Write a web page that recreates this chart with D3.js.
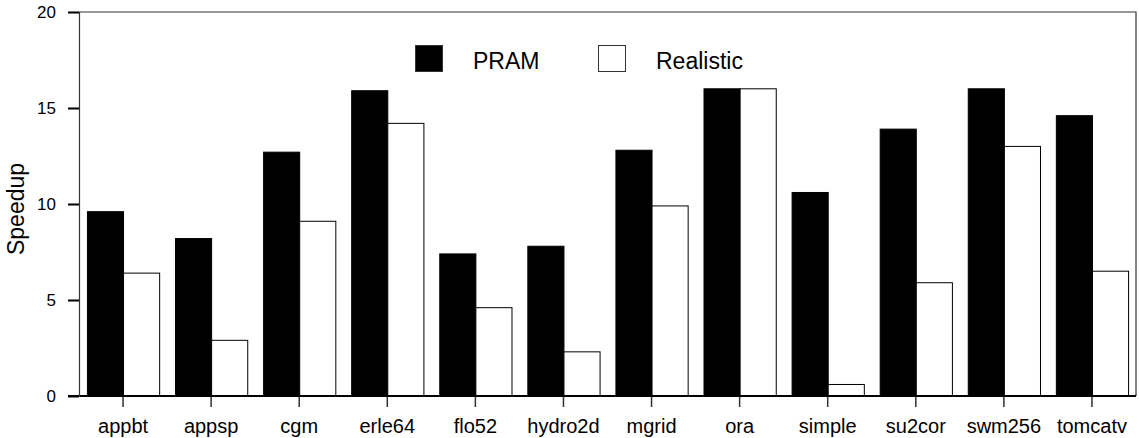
<!DOCTYPE html>
<html>
<head>
<meta charset="utf-8">
<script src="https://cdn.jsdelivr.net/npm/d3@7/dist/d3.min.js"></script>
<style>
  body { margin: 0; background: #fff; }
  svg text { font-family: "Liberation Sans", Arial, sans-serif; fill: #000; }
</style>
</head>
<body>
<div id="chart"></div>
<script>
// Speedup per benchmark, PRAM vs realistic
const categories = ['appbt','appsp','cgm','erle64','flo52','hydro2d','mgrid','ora','simple','su2cor','swm256','tomcatv'];
const pram      = [9.6, 8.2, 12.7, 15.9, 7.4, 7.8, 12.8, 16.0, 10.6, 13.9, 16.0, 14.6];
const realistic = [6.4, 2.9, 9.1, 14.2, 4.6, 2.3, 9.9, 16.0, 0.6, 5.9, 13.0, 6.5];
const yTicks = [0, 5, 10, 15, 20];
const seriesNames = ['PRAM', 'Realistic'];

(function(){
  const width = 1139, height = 438;
  const margin = { top: 12, right: 3, bottom: 42, left: 79 };

  const svg = d3.select('#chart').append('svg')
    .attr('width', width).attr('height', height);

  const x = d3.scaleBand()
    .domain(categories)
    .range([margin.left, width - margin.right])
    .paddingInner(0.18).paddingOuter(0.09);
  const xs = d3.scaleBand()
    .domain(seriesNames)
    .range([0, x.bandwidth()]);
  const y = d3.scaleLinear()
    .domain([0, 20])
    .range([height - margin.bottom, margin.top]);

  const rows = categories.map((c,i) => ({ cat: c, vals: [
    { s: 'PRAM', v: pram[i] }, { s: 'Realistic', v: realistic[i] } ] }));

  // frame (top and right)
  svg.append('path')
    .attr('d', `M${margin.left},${y(20)}H${width - margin.right}V${y(0)}`)
    .attr('fill','none').attr('stroke','#333').attr('stroke-width',1.2);

  const g = svg.append('g');
  g.selectAll('g.grp').data(rows).enter().append('g')
    .attr('transform', d => `translate(${x(d.cat)},0)`)
    .selectAll('rect').data(d => d.vals).enter().append('rect')
    .attr('x', d => xs(d.s) + 0.5)
    .attr('y', d => y(d.v))
    .attr('width', xs.bandwidth())
    .attr('height', d => y(0) - y(d.v))
    .attr('fill', d => d.s === 'PRAM' ? '#000' : '#fff')
    .attr('stroke', '#000').attr('stroke-width', 1);

  // x axis: ticks at band centre
  const xAxis = svg.append('g')
    .attr('transform', `translate(0,${y(0)})`)
    .call(d3.axisBottom(x).tickSize(11));
  xAxis.select('.domain').remove();
  xAxis.selectAll('.tick line').attr('stroke','#333').attr('stroke-width',1.5);
  xAxis.selectAll('text')
    .attr('y', 37).attr('dy', null)
    .style('font-size','20px');
  svg.append('line')
    .attr('x1', margin.left - 11).attr('x2', width - margin.right)
    .attr('y1', y(0)).attr('y2', y(0))
    .attr('stroke','#000').attr('stroke-width',2);

  // y axis
  const yAxis = svg.append('g')
    .attr('transform', `translate(${margin.left},0)`)
    .call(d3.axisLeft(y).tickValues(yTicks).tickSize(11).tickPadding(12));
  yAxis.select('.domain').attr('stroke','#333').attr('stroke-width',1.2);
  yAxis.selectAll('.tick line').attr('stroke','#000').attr('stroke-width',2);
  yAxis.selectAll('text').style('font-size','17px').attr('dy','0.3em');

  svg.append('text')
    .attr('transform', `translate(24,${(y(0)+y(20))/2 + 5}) rotate(-90)`)
    .attr('text-anchor','middle')
    .style('font-size','23px')
    .text('Speedup');

  // legend
  const legX = [415, 598];
  const leg = svg.append('g');
  seriesNames.forEach((s,i) => {
    leg.append('rect')
      .attr('x', legX[i] + 0.5).attr('y', 45.5)
      .attr('width', 27).attr('height', 26)
      .attr('fill', s === 'PRAM' ? '#000' : '#fff')
      .attr('stroke', '#333').attr('stroke-width', 1);
    leg.append('text')
      .attr('x', legX[i] + 58).attr('y', 69)
      .style('font-size','23px')
      .text(s);
  });
})();
</script>
</body>
</html>
